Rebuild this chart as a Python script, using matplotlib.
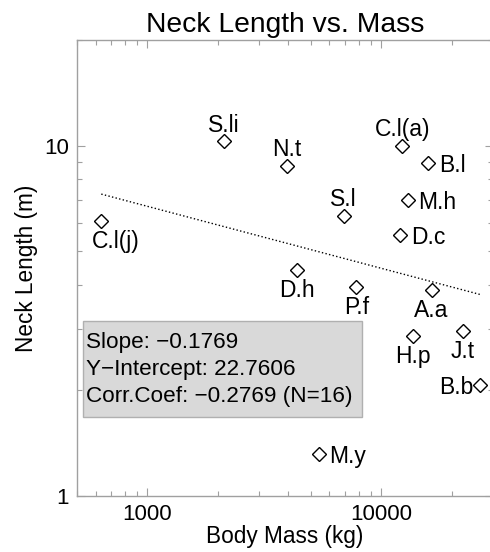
import matplotlib
matplotlib.use("Agg")
import matplotlib.pyplot as plt
from matplotlib.patches import Rectangle
from matplotlib.ticker import LogLocator, FuncFormatter, NullFormatter
import numpy as np

plt.rcParams['font.family'] = ['Liberation Sans', 'DejaVu Sans']

# data
names = ["S.li", "N.t", "C.l(a)", "B.l", "M.h", "S.l", "C.l(j)", "D.c",
         "D.h", "P.f", "A.a", "O.j", "H.p", "J.t", "B.b", "M.y"]
mass = [2130, 3950, 12300, 15900, 13000, 6890, 635, 12050,
        4360, 7820, 16400, 6750, 13700, 22300, 26500, 5400]
neck = [10.3, 8.76, 9.98, 8.89, 6.98, 6.31, 6.08, 5.55,
        4.42, 3.96, 3.87, 2.64, 2.86, 2.95, 2.07, 1.32]
where = ["above", "above", "above", "right", "right", "above", "below", "right",
         "below", "below", "below", "left", "below", "below", "left", "right"]

slope = -0.1769
intercept = 22.7606
corr = -0.2769

# label placement: (dx, dy) in points, horizontal alignment
place = {
    "above": (0, 6.8, "center"),
    "below": (0, -19.5, "center"),
    "right": (7.5, -6.5, "left"),
    "left": (-5.2, -6.5, "right"),
}

fig = plt.figure(figsize=(4.9, 5.52), dpi=100)
ax = fig.add_axes([77 / 490, 56 / 552, 416 / 490, 456 / 552])

ax.set_xscale("log")
ax.set_yscale("log")
ax.set_xlim(500, 30000)
ax.set_ylim(1, 20)

ax.plot(mass, neck, linestyle="none", marker="D", markersize=7.4,
        markerfacecolor="white", markeredgecolor="black", markeredgewidth=1.0,
        zorder=3)

for n, x, y, w in zip(names, mass, neck, where):
    dx, dy, ha = place[w]
    if n == "C.l(j)":
        dx, ha = -6.7, "left"
    ax.annotate(n, (x, y), xytext=(dx, dy), textcoords="offset points",
                ha=ha, va="baseline", fontsize=16.5, color="black")

# power-law fit line, spanning the data range
xf = np.array([min(mass), max(mass)])
ax.plot(xf, intercept * xf ** slope, linestyle=":", color="black", lw=1.0)

# stats box
ax.add_patch(Rectangle((6 / 416, 79.3 / 456), 279 / 416, 96 / 456,
                       transform=ax.transAxes, facecolor="#d9d9d9",
                       edgecolor="#b0b0b0", lw=1.0, zorder=4))
stats = [f"Slope: {slope:.4f}".replace("-", "\u2212"),
         f"Y\u2212Intercept: {intercept:.4f}",
         f"Corr.Coef: {corr:.4f} (N={len(mass)})".replace("-", "\u2212")]
for i, s in enumerate(stats):
    ax.text(9 / 416, (148.3 - 27.3 * i) / 456, s, transform=ax.transAxes,
            ha="left", va="baseline", fontsize=16.2, zorder=5)

fmt = FuncFormatter(lambda v, _: f"{v:g}")
ax.xaxis.set_major_locator(LogLocator(base=10))
ax.xaxis.set_major_formatter(fmt)
ax.xaxis.set_minor_formatter(NullFormatter())
ax.yaxis.set_major_locator(LogLocator(base=10))
ax.yaxis.set_major_formatter(fmt)
ax.yaxis.set_minor_formatter(NullFormatter())

for sp in ax.spines.values():
    sp.set_color("#a0a0a0")
    sp.set_linewidth(1.0)
ax.tick_params(which="both", direction="in", top=True, right=True,
               color="#a0a0a0", width=0.8, labelsize=16, labelcolor="black")
ax.tick_params(which="major", length=6, pad=6)
ax.tick_params(which="minor", length=3.3)

ax.set_xlabel("Body Mass (kg)", fontsize=16.3, labelpad=0)
ax.set_ylabel("Neck Length (m)", fontsize=16.3, labelpad=4)
ax.set_title("Neck Length vs. Mass", fontsize=20.3, pad=6)

fig.savefig("out.png", dpi=100)
